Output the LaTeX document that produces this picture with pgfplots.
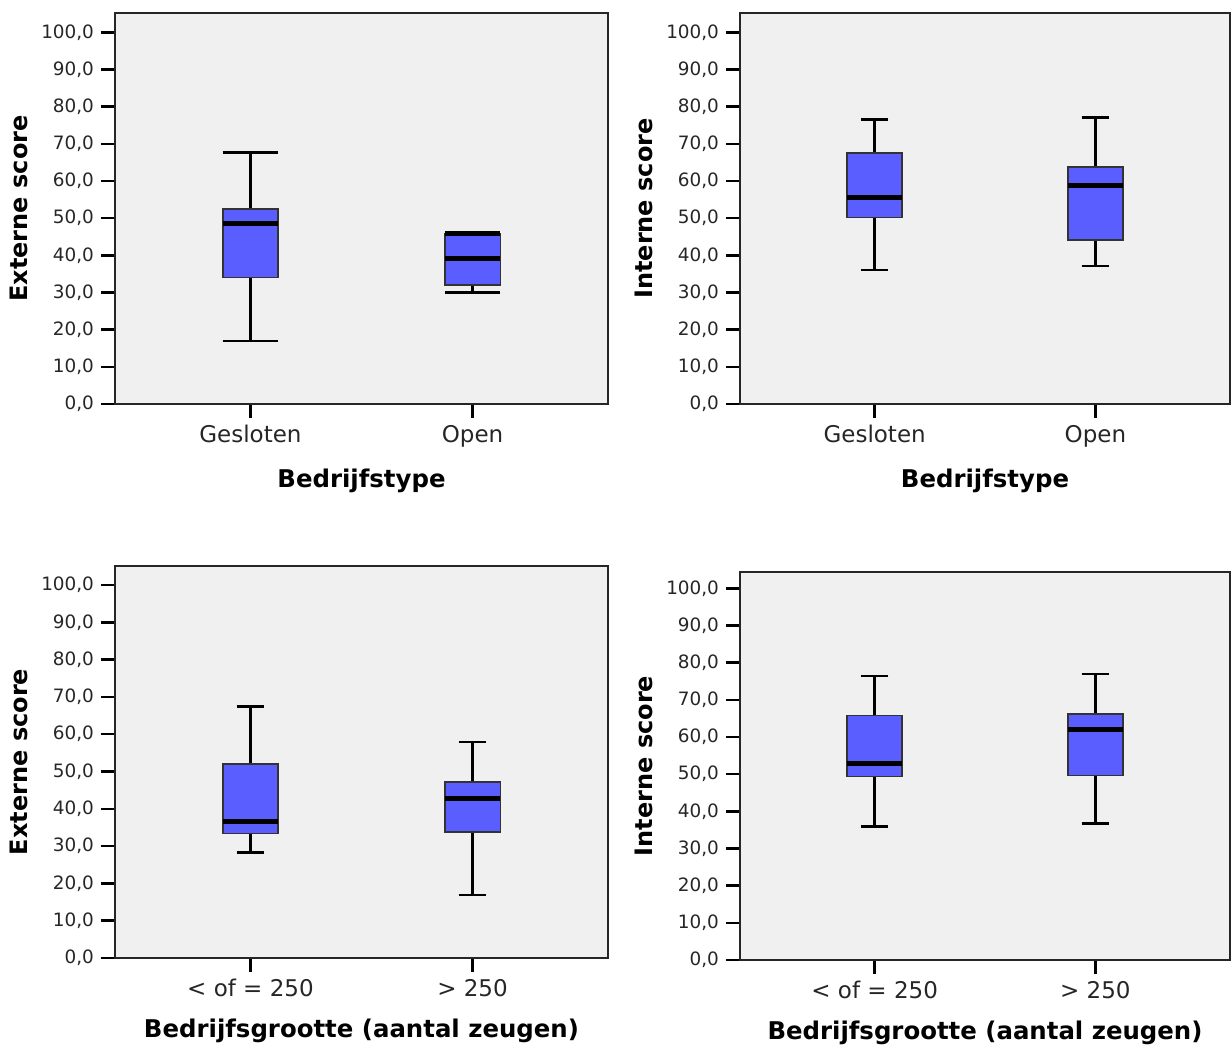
\documentclass[border=0pt]{standalone}
\usepackage{fontspec}
\setmainfont{DejaVu Sans}
\usepackage{pgfplots}
\pgfplotsset{compat=1.18}
\usepgfplotslibrary{statistics}

\definecolor{bggray}{HTML}{F0F0F0}
\definecolor{boxblue}{RGB}{90,94,255}

\pgfplotsset{
  spss/.style={
    scale only axis, width=246.5pt, height=195.5pt,
    xmin=0.39, xmax=2.61, ymin=0, ymax=105.2,
    boxplot/draw direction=y,
    axis background/.style={fill=bggray},
    axis line style={black!85, line width=0.9pt},
    tick pos=left, tick align=outside, major tick length=7pt,
    tick style={black, line width=1.2pt},
    xtick={1,2}, ytick={0,10,...,100},
    yticklabel style={font=\fontsize{9.2}{10}\selectfont, text=black!85},
    xticklabel style={font=\fontsize{11.5}{13}\selectfont, text=black!85},
    xlabel style={font=\bfseries\fontsize{12.2}{14}\selectfont, yshift=-4pt},
    ylabel style={font=\bfseries\fontsize{12}{14}\selectfont},
    /pgf/number format/fixed,
    /pgf/number format/fixed zerofill,
    /pgf/number format/precision=1,
    /pgf/number format/use comma,
    /pgf/number format/assume math mode=true,
  },
  bx/.style={fill=boxblue, draw=black!80, line width=0.8pt,
    boxplot/every median/.style={black, line width=2.5pt},
    boxplot/every whisker/.style={black, line width=1.3pt}},
}

\begin{document}
\begin{tikzpicture}
\useasboundingbox (0,0) rectangle (615.5pt,524pt);

% top left
\begin{axis}[spss, at={(57.5pt,322pt)}, anchor=south west,
  xticklabels={Gesloten,Open}, xlabel={Bedrijfstype}, ylabel={Externe score}]
\addplot[bx, boxplot prepared={draw position=1, lower whisker=16.9, lower quartile=34.0,
  median=48.6, upper quartile=52.4, upper whisker=67.6, box extend=0.25, whisker extend=0.25}] coordinates {};
\addplot[bx, boxplot prepared={draw position=2, lower whisker=30.0, lower quartile=32.0,
  median=39.1, upper quartile=45.9, upper whisker=45.9, box extend=0.25, whisker extend=0.25}] coordinates {};
% upper whisker cap coincides with the upper quartile
\addplot[black, line width=2.3pt, forget plot] coordinates {(1.875,45.9) (2.125,45.9)};
\end{axis}

% top right
\begin{axis}[spss, at={(370pt,322pt)}, anchor=south west, width=245pt,
  xticklabels={Gesloten,Open}, xlabel={Bedrijfstype}, ylabel={Interne score}]
\addplot[bx, boxplot prepared={draw position=1, lower whisker=36.1, lower quartile=50.2,
  median=55.6, upper quartile=67.6, upper whisker=76.6, box extend=0.25, whisker extend=0.125}] coordinates {};
\addplot[bx, boxplot prepared={draw position=2, lower whisker=37.1, lower quartile=44.1,
  median=58.7, upper quartile=63.7, upper whisker=77.1, box extend=0.25, whisker extend=0.125}] coordinates {};
\end{axis}

% bottom left
\begin{axis}[spss, at={(57.5pt,45pt)}, anchor=south west, height=196pt, ymax=105.1,
  xticklabels={< of = 250,> 250}, xlabel={Bedrijfsgrootte (aantal zeugen)}, ylabel={Externe score}]
\addplot[bx, boxplot prepared={draw position=1, lower whisker=28.3, lower quartile=33.4,
  median=36.5, upper quartile=52.0, upper whisker=67.4, box extend=0.25, whisker extend=0.125}] coordinates {};
\addplot[bx, boxplot prepared={draw position=2, lower whisker=16.9, lower quartile=33.8,
  median=42.7, upper quartile=47.2, upper whisker=57.9, box extend=0.25, whisker extend=0.125}] coordinates {};
\end{axis}

% bottom right
\begin{axis}[spss, at={(370pt,44pt)}, anchor=south west, width=245pt, height=194pt, ymax=104.4,
  xticklabels={< of = 250,> 250}, xlabel={Bedrijfsgrootte (aantal zeugen)}, ylabel={Interne score}]
\addplot[bx, boxplot prepared={draw position=1, lower whisker=35.9, lower quartile=49.4,
  median=52.8, upper quartile=65.8, upper whisker=76.4, box extend=0.25, whisker extend=0.125}] coordinates {};
\addplot[bx, boxplot prepared={draw position=2, lower whisker=36.8, lower quartile=49.6,
  median=62.1, upper quartile=66.2, upper whisker=76.9, box extend=0.25, whisker extend=0.125}] coordinates {};
\end{axis}
\end{tikzpicture}
\end{document}
